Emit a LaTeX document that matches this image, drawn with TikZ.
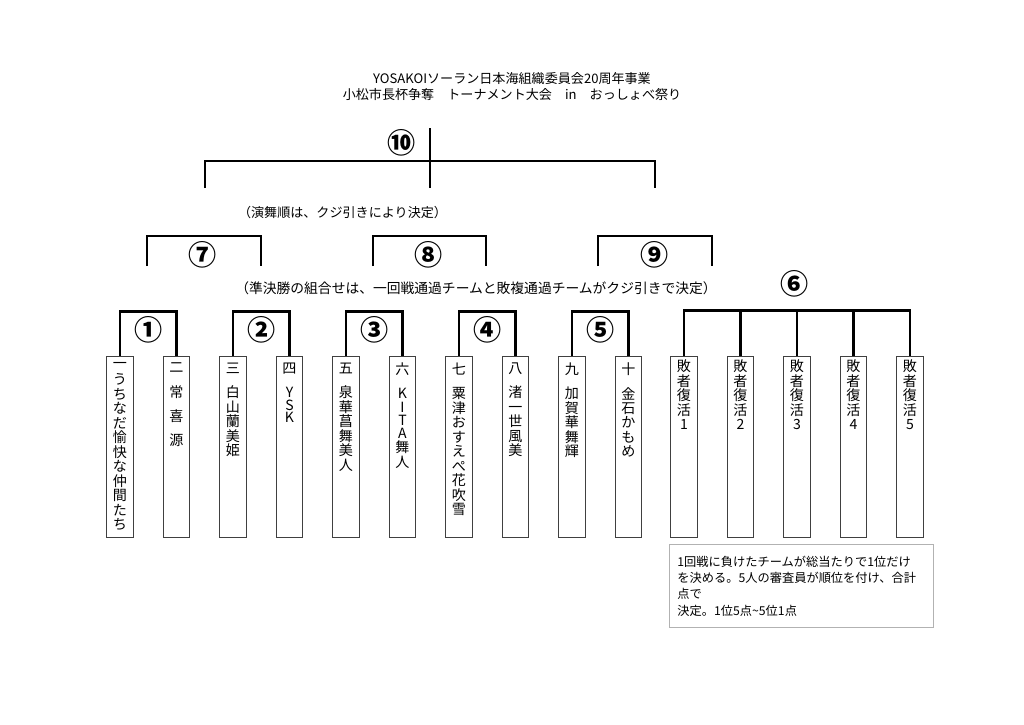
\documentclass[tikz,border=0pt]{standalone}
\usepackage{fontspec}
\setmainfont{Noto Sans CJK JP}
\usetikzlibrary{positioning,calc}

\begin{document}
\begin{tikzpicture}[x=0.25mm, y=-0.25mm,
    team/.style={draw=black!75,line width=0.6pt,minimum width=6.6mm,minimum height=45.25mm,inner sep=0pt},
    tname/.style={anchor=north,inner xsep=0pt,inner ysep=5pt,align=center,font=\fontsize{10}{10.3}\selectfont},
    bracket/.style={line width=1.8pt},
    circ/.style={font=\bfseries\fontsize{20}{20}\selectfont},
    capt/.style={font=\fontsize{9.3}{11}\selectfont}]
  \useasboundingbox (0,0) rectangle (1024,724);

  \node[align=center,font=\fontsize{9.3}{12}\selectfont] (title) at (512,86.5)
    {YOSAKOIソーラン日本海組織委員会20周年事業\\小松市長杯争奪　トーナメント大会　in　おっしょべ祭り};

  % first round teams
  \node[team] (t1) at (120,446.5) {};
  \node[team] (t2) at (176.5,446.5) {};
  \node[team] (t3) at (233,446.5) {};
  \node[team] (t4) at (289.5,446.5) {};
  \node[team] (t5) at (346,446.5) {};
  \node[team] (t6) at (402.5,446.5) {};
  \node[team] (t7) at (459,446.5) {};
  \node[team] (t8) at (515.5,446.5) {};
  \node[team] (t9) at (572,446.5) {};
  \node[team] (t10) at (628.5,446.5) {};

  \node[tname] (n1) at (t1.north) {一\\[1pt]う\\ち\\な\\だ\\愉\\快\\な\\仲\\間\\た\\ち};
  \node[tname] (n2) at (t2.north) {二\\[7pt]常\\[7pt]喜\\[7pt]源};
  \node[tname] (n3) at (t3.north) {三\\[7pt]白\\山\\蘭\\美\\姫};
  \node[tname] (n4) at (t4.north) {四\\[7pt]Y\\[-1.5pt]S\\[-1.5pt]K};
  \node[tname] (n5) at (t5.north) {五\\[7pt]泉\\華\\菖\\舞\\美\\人};
  \node[tname] (n6) at (t6.north) {六\\[7pt]K\\[-1pt]I\\[-1pt]T\\[-1pt]A\\舞\\人};
  \node[tname] (n7) at (t7.north) {七\\[7pt]粟\\津\\お\\す\\え\\ぺ\\花\\吹\\雪};
  \node[tname] (n8) at (t8.north) {八\\[7pt]渚\\一\\世\\風\\美};
  \node[tname] (n9) at (t9.north) {九\\[7pt]加\\賀\\華\\舞\\輝};
  \node[tname] (n10) at (t10.north) {十\\[7pt]金\\石\\か\\も\\め};

  % losers' revival
  \node[team] (r1) at (684,446.5) {};
  \node[team] (r2) at (740.5,446.5) {};
  \node[team] (r3) at (797,446.5) {};
  \node[team] (r4) at (853.5,446.5) {};
  \node[team] (r5) at (910,446.5) {};
  \node[tname,inner ysep=3pt] (s1) at (r1.north) {敗\\者\\復\\活\\1};
  \node[tname,inner ysep=3pt] (s2) at (r2.north) {敗\\者\\復\\活\\2};
  \node[tname,inner ysep=3pt] (s3) at (r3.north) {敗\\者\\復\\活\\3};
  \node[tname,inner ysep=3pt] (s4) at (r4.north) {敗\\者\\復\\活\\4};
  \node[tname,inner ysep=3pt] (s5) at (r5.north) {敗\\者\\復\\活\\5};

  \draw[bracket] (t1.north) -- ++(0,-44) -| (t2.north);
  \draw[bracket] (t3.north) -- ++(0,-44) -| (t4.north);
  \draw[bracket] (t5.north) -- ++(0,-44) -| (t6.north);
  \draw[bracket] (t7.north) -- ++(0,-44) -| (t8.north);
  \draw[bracket] (t9.north) -- ++(0,-44) -| (t10.north);
  \draw[bracket] (r1.north) -- ++(0,-45) -| (r5.north);
  \foreach \r in {r2,r3,r4}
    \draw[bracket] (\r.north) -- ++(0,-45);

  \node[circ] (m1) at (148.25,330) {①};
  \node[circ] (m2) at (261.25,330) {②};
  \node[circ] (m3) at (374.25,330) {③};
  \node[circ] (m4) at (487.25,330) {④};
  \node[circ] (m5) at (600.25,330) {⑤};
  \node[circ] (m6) at (795,284) {⑥};

  % semi-finals
  \coordinate (q1) at (147,266);
  \coordinate (q2) at (261,266);
  \coordinate (q3) at (373,266);
  \coordinate (q4) at (486,266);
  \coordinate (q5) at (598,266);
  \coordinate (q6) at (712,266);
  \draw[bracket] (q1) -- ++(0,-30) -| (q2);
  \draw[bracket] (q3) -- ++(0,-30) -| (q4);
  \draw[bracket] (q5) -- ++(0,-30) -| (q6);
  \node[circ] (m7) at (203,255) {⑦};
  \node[circ] (m8) at (429,255) {⑧};
  \node[circ] (m9) at (655,255) {⑨};

  % final
  \coordinate (p7) at (205,188);
  \coordinate (p8) at (430,188);
  \coordinate (p9) at (655,188);
  \coordinate (win) at (430,128);
  \draw[bracket] (p7) -- ++(0,-27) -| (p9);
  \draw[bracket] (win) -- (p8);
  \node[circ] (m10) at (402,143) {⑩};

  \node[capt] (c1) at (342.5,213) {（演舞順は、クジ引きにより決定）};
  \node[capt,font=\fontsize{9.8}{11}\selectfont] (c2) at (476,288)
    {（準決勝の組合せは、一回戦通過チームと敗複通過チームがクジ引きで決定）};

  \node[draw=black!30,line width=0.6pt,anchor=north west,minimum width=66mm,minimum height=20.75mm,
        inner xsep=2mm,text width=62mm,align=left,font=\fontsize{8.7}{11.6}\selectfont] (note) at (669,544)
    {1回戦に負けたチームが総当たりで1位だけ\\を決める。5人の審査員が順位を付け、合計\\点で\\決定。1位5点\textasciitilde 5位1点};
\end{tikzpicture}
\end{document}
